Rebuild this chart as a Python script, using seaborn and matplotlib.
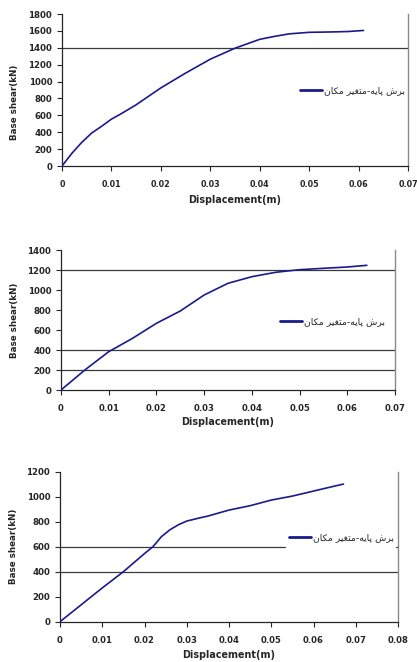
import matplotlib
matplotlib.use('Agg')
import matplotlib.pyplot as plt
import seaborn as sns
import pandas as pd
from matplotlib.ticker import FuncFormatter, MultipleLocator

sns.set_style('ticks')
plt.rcParams['font.family'] = ['DejaVu Sans']

# Persian legend text "برش پایه-متغیر مکان" in shaped (presentation) forms, visual order
legend_label = "\uFEE5\uFE8E\uFB91\uFEE3 \uFEAE\uFBFF\uFED0\uFE98\uFEE3-\uFEEA\uFBFE\uFE8E\uFB58 \uFEB5\uFEAE\uFE91"
x_label = "Displacement(m)"
y_label = "Base shear(kN)"

# Chart 1
disp1 = [0, 0.002, 0.004, 0.006, 0.008, 0.010, 0.012, 0.015, 0.020, 0.025, 0.030,
         0.035, 0.040, 0.043, 0.046, 0.050, 0.055, 0.058, 0.061]
shear1 = [0, 150, 280, 390, 470, 555, 620, 725, 925, 1100, 1265,
          1395, 1500, 1535, 1565, 1583, 1588, 1593, 1605]
refs1 = [1400]

# Chart 2
disp2 = [0, 0.005, 0.010, 0.015, 0.020, 0.025, 0.030, 0.035, 0.040, 0.045,
         0.048, 0.050, 0.055, 0.060, 0.0641]
shear2 = [0, 200, 383, 517, 667, 790, 950, 1067, 1133, 1177,
          1193, 1203, 1217, 1230, 1247]
refs2 = [1200, 400, 200]

# Chart 3
disp3 = [0, 0.005, 0.010, 0.015, 0.020, 0.022, 0.024, 0.026, 0.028, 0.030,
         0.033, 0.035, 0.040, 0.045, 0.050, 0.055, 0.060, 0.065, 0.0671]
shear3 = [0, 135, 270, 400, 545, 600, 680, 735, 775, 805,
          830, 845, 893, 928, 973, 1005, 1045, 1085, 1101]
refs3 = [400]
partial_ref3 = 600

W, H = 417, 662
fig = plt.figure(figsize=(W / 100, H / 100), dpi=100)

def px_axes(left, right, top, bottom):
    return fig.add_axes([left / W, 1 - bottom / H, (right - left) / W, (bottom - top) / H])

line_color = '#1a1a8e'
ref_color = '#3a3a3a'

def setup(ax, xs, ys, xmax, ymax, ystep, refs, leg_anchor, ylab_y, xlab_y, xtick_size=6.1):
    df = pd.DataFrame({'d': xs, 's': ys})
    sns.lineplot(data=df, x='d', y='s', ax=ax, color=line_color, lw=1.2,
                 label=legend_label, zorder=3)
    for r in refs:
        ax.axhline(r, color=ref_color, lw=0.9, zorder=2)
    ax.set_xlim(0, xmax)
    ax.set_ylim(0, ymax)
    ax.xaxis.set_major_locator(MultipleLocator(0.01))
    ax.yaxis.set_major_locator(MultipleLocator(ystep))
    ax.xaxis.set_major_formatter(FuncFormatter(lambda v, p: '0' if abs(v) < 1e-9 else f'{v:.2f}'))
    ax.yaxis.set_major_formatter(FuncFormatter(lambda v, p: f'{int(round(v))}'))
    ax.tick_params(axis='x', direction='out', length=3.5, width=0.8, pad=6.5)
    ax.tick_params(axis='y', direction='out', length=3.5, width=0.8, pad=3.5)
    for lab in ax.get_xticklabels():
        lab.set_fontfamily('DejaVu Sans')
        lab.set_fontweight('bold')
        lab.set_fontsize(xtick_size)
    for lab in ax.get_yticklabels():
        lab.set_fontfamily('DejaVu Sans')
        lab.set_fontweight('bold')
        lab.set_fontsize(6.2)
    ax.spines['top'].set_visible(False)
    ax.spines['right'].set_color('#8a8a8a')
    ax.spines['right'].set_linewidth(1.0)
    ax.spines['left'].set_linewidth(0.9)
    ax.spines['bottom'].set_linewidth(0.9)
    ax.set_xlabel(x_label, fontfamily='DejaVu Sans', fontweight='bold', fontsize=6.9)
    ax.set_ylabel(y_label, fontfamily='DejaVu Sans', fontweight='bold', fontsize=6.3)
    ax.xaxis.label.set_va('center')
    ax.yaxis.label.set_va('center')
    ax.xaxis.set_label_coords(0.5, xlab_y)
    ax.yaxis.set_label_coords(-0.138, ylab_y)
    leg = ax.legend(loc='center left', bbox_to_anchor=leg_anchor, frameon=False,
                    borderpad=0, borderaxespad=0, handlelength=2.4, handletextpad=0.15,
                    prop={'family': 'DejaVu Sans', 'size': 6.7})
    for h in leg.legend_handles:
        h.set_linewidth(2.0)
    return ax

ax1 = px_axes(62, 408, 14, 166)
setup(ax1, disp1, shear1, 0.07, 1800, 200, refs1, (0.688, 0.493), 0.42, -0.224, xtick_size=5.8)

ax2 = px_axes(61, 395, 250, 390)
setup(ax2, disp2, shear2, 0.07, 1400, 200, refs2, (0.656, 0.486), 0.5, -0.229)

ax3 = px_axes(60, 398, 471.7, 621.7)
setup(ax3, disp3, shear3, 0.08, 1200, 200, refs3, (0.677, 0.558), 0.5, -0.222)
ax3.axhline(partial_ref3, xmin=0, xmax=0.667, color=ref_color, lw=0.9, zorder=2)
ax3.axhline(partial_ref3, xmin=0.993, xmax=1.0, color=ref_color, lw=0.9, zorder=2)

fig.savefig('out.png', dpi=100, facecolor='white')
